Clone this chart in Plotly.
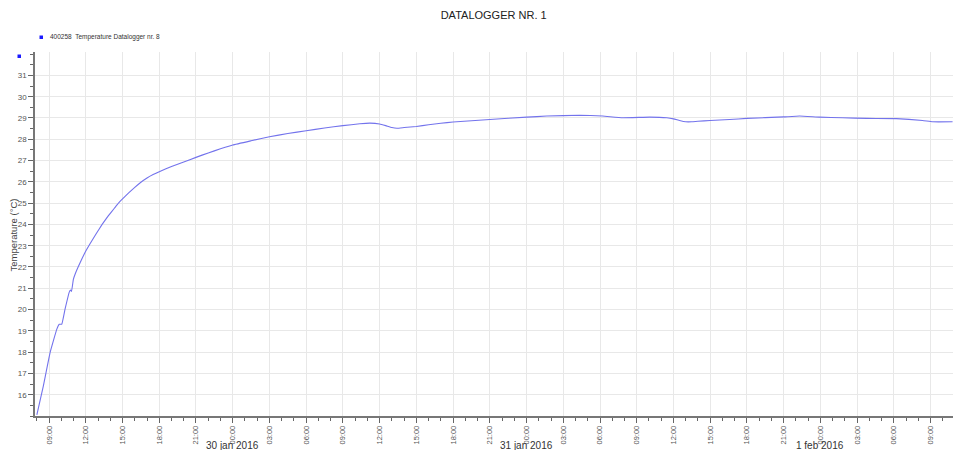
import plotly.graph_objects as go

title_text = "DATALOGGER NR. 1"
series_name = "400258  Temperature Datalogger nr. 8"
y_axis_title = "Temperature (°C)"

times = [
    "2016-01-29 08:00", "2016-01-29 08:32", "2016-01-29 09:05", "2016-01-29 09:38",
    "2016-01-29 09:50", "2016-01-29 10:02", "2016-01-29 10:18", "2016-01-29 10:39",
    "2016-01-29 10:45", "2016-01-29 10:50", "2016-01-29 10:59", "2016-01-29 11:07",
    "2016-01-29 11:32", "2016-01-29 12:00", "2016-01-29 12:20", "2016-01-29 12:50",
    "2016-01-29 13:20", "2016-01-29 13:50", "2016-01-29 14:20", "2016-01-29 14:40",
    "2016-01-29 15:00", "2016-01-29 15:30", "2016-01-29 16:00", "2016-01-29 16:30",
    "2016-01-29 17:00", "2016-01-29 17:30", "2016-01-29 18:00", "2016-01-29 19:00",
    "2016-01-29 20:00", "2016-01-29 21:00", "2016-01-29 22:00", "2016-01-29 23:00",
    "2016-01-30 00:00", "2016-01-30 01:30", "2016-01-30 03:00", "2016-01-30 04:30",
    "2016-01-30 06:00", "2016-01-30 07:30", "2016-01-30 09:00", "2016-01-30 10:23",
    "2016-01-30 11:12", "2016-01-30 12:00", "2016-01-30 12:30", "2016-01-30 13:00",
    "2016-01-30 13:25", "2016-01-30 14:00", "2016-01-30 15:00", "2016-01-30 16:00",
    "2016-01-30 17:00", "2016-01-30 18:00", "2016-01-30 21:00", "2016-01-31 00:01",
    "2016-01-31 01:39", "2016-01-31 04:21", "2016-01-31 06:13", "2016-01-31 07:51",
    "2016-01-31 10:04", "2016-01-31 11:27", "2016-01-31 12:00", "2016-01-31 12:30",
    "2016-01-31 13:00", "2016-01-31 13:30", "2016-01-31 14:00", "2016-01-31 15:00",
    "2016-01-31 16:35", "2016-01-31 17:59", "2016-01-31 21:00", "2016-01-31 22:18",
    "2016-01-31 23:56", "2016-02-01 01:49", "2016-02-01 03:47", "2016-02-01 06:13",
    "2016-02-01 08:21", "2016-02-01 09:10", "2016-02-01 10:48",
]
temps = [
    15.05, 16.42, 17.98, 19.08,
    19.31, 19.31, 20.01, 20.82,
    20.92, 20.85, 21.42, 21.65,
    22.20, 22.75, 23.08, 23.55,
    24.00, 24.40, 24.76, 25.00,
    25.20, 25.48, 25.74, 25.98,
    26.18, 26.34, 26.48, 26.72,
    26.93, 27.15, 27.36, 27.55,
    27.73, 27.93, 28.12, 28.27,
    28.40, 28.53, 28.64, 28.73,
    28.76, 28.72, 28.64, 28.55,
    28.52, 28.55, 28.60, 28.68,
    28.75, 28.81, 28.93, 29.04,
    29.09, 29.13, 29.09, 29.01,
    29.04, 29.01, 28.96, 28.88,
    28.82, 28.82, 28.85, 28.88,
    28.93, 28.98, 29.05, 29.09,
    29.04, 29.01, 28.98, 28.97,
    28.88, 28.82, 28.82,
]

y_tick_vals = list(range(16, 32))
day_label_dates = ["2016-01-30", "2016-01-31", "2016-02-01"]
day_label_texts = ["30 jan 2016", "31 jan 2016", "1 feb 2016"]

line_color = "#7373ec"
font_family = "Liberation Sans, Arial, sans-serif"

W, H = 953, 450
ML, MR, MT, MB = 35, 0, 52, 34
plot_w = W - ML - MR
plot_h = H - MT - MB


def px_x(px):
    return (px - ML) / plot_w


def px_y(py):
    return (H - MB - py) / plot_h


fig = go.Figure()
fig.add_trace(go.Scatter(
    x=times, y=temps, mode="lines", name=series_name,
    line=dict(color=line_color, width=1.1, shape="spline", smoothing=0.3),
    showlegend=False,
))

annotations = [
    dict(text=d, x=t, xref="x", y=0, yref="paper", yshift=-29,
         showarrow=False, xanchor="center", yanchor="middle",
         font=dict(size=10, color="#333333", family=font_family))
    for t, d in zip(day_label_dates, day_label_texts)
]
annotations.append(dict(
    text=series_name, x=px_x(48), xref="paper", y=px_y(37), yref="paper",
    showarrow=False, xanchor="left", yanchor="middle",
    font=dict(size=6.5, color="#333333", family=font_family),
))
annotations.append(dict(
    text=y_axis_title, x=px_x(12.5), xref="paper", y=px_y(235), yref="paper",
    showarrow=False, xanchor="center", yanchor="middle", textangle=-90,
    font=dict(size=9.5, color="#444444", family=font_family),
))

fig.update_layout(
    width=W, height=H,
    margin=dict(l=ML, r=MR, t=MT, b=MB, autoexpand=False),
    paper_bgcolor="white", plot_bgcolor="white",
    title=dict(text=title_text, x=0.518, xanchor="center", y=0.967, yanchor="middle",
               font=dict(size=11, color="#222222", family=font_family)),
    font=dict(family=font_family),
    showlegend=False,
    annotations=annotations,
)

fig.add_shape(type="rect", xref="paper", yref="paper",
              x0=px_x(39.5), x1=px_x(43), y0=px_y(35.5), y1=px_y(39),
              fillcolor="#1a1aff", line=dict(width=0))
fig.add_shape(type="rect", xref="paper", yref="paper",
              x0=px_x(17.5), x1=px_x(21), y0=px_y(54.5), y1=px_y(58),
              fillcolor="#1a1aff", line=dict(width=0))

fig.update_xaxes(
    type="date",
    range=["2016-01-29 07:51", "2016-02-01 10:50"],
    tick0="2016-01-29 00:00", dtick=3 * 3600 * 1000,
    tickformat="%H:%M", tickangle=-90,
    tickfont=dict(size=7.5, color="#555555"),
    ticks="outside", ticklen=5, tickcolor="#666666",
    showgrid=True, gridcolor="#e8e8e8", gridwidth=1,
    showline=True, linecolor="#777777", linewidth=1.5,
    minor=dict(dtick=3600 * 1000, ticks="outside", ticklen=3, tickcolor="#666666", showgrid=False),
    zeroline=False,
)
fig.update_yaxes(
    range=[15, 32.1],
    tickvals=y_tick_vals,
    tickfont=dict(size=8, color="#555555"),
    ticks="outside", ticklen=5, tickcolor="#666666",
    showgrid=True, gridcolor="#e8e8e8", gridwidth=1,
    showline=True, linecolor="#777777", linewidth=1.5,
    minor=dict(dtick=0.5, tick0=15, ticks="outside", ticklen=3, tickcolor="#666666", showgrid=False),
    zeroline=False,
)

fig.write_html("out.html", config={"displayModeBar": False},
               post_script="document.body.style.margin='0';")
